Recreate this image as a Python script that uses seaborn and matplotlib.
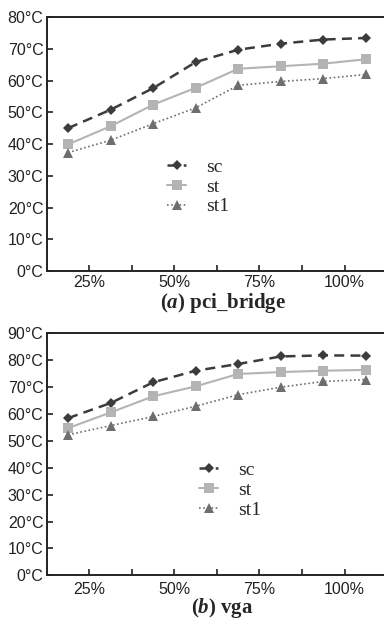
"""Temperatura por carga: pci_bridge y vga."""

import matplotlib
matplotlib.use("Agg")

import matplotlib.pyplot as plt
import pandas as pd
import seaborn as sns

# --- datos ---
loads = [18.75, 31.25, 43.75, 56.25, 68.75, 81.25, 93.75, 106.25]
x_ticks = [25, 37.5, 50, 62.5, 75, 87.5, 100]
x_tick_labels = ["25%", "", "50%", "", "75%", "", "100%"]
series_names = ["sc", "st", "st1"]

pci_sc = [45.0, 50.8, 57.6, 65.8, 69.7, 71.6, 72.9, 73.4]
pci_st = [39.9, 45.6, 52.4, 57.7, 63.7, 64.5, 65.3, 66.7]
pci_st1 = [37.3, 41.2, 46.4, 51.4, 58.5, 59.7, 60.6, 61.9]

vga_sc = [58.4, 64.0, 71.7, 76.0, 78.5, 81.3, 81.7, 81.6]
vga_st = [54.7, 60.5, 66.5, 70.2, 74.8, 75.5, 76.0, 76.3]
vga_st1 = [52.2, 55.6, 59.0, 62.8, 67.1, 69.9, 72.0, 72.7]

sns.set_style("ticks")
plt.rcParams["font.family"] = ["Liberation Sans", "DejaVu Sans"]
plt.rcParams["mathtext.fontset"] = "custom"
plt.rcParams["mathtext.rm"] = "Liberation Serif:bold"
plt.rcParams["mathtext.bf"] = "Liberation Serif:bold"
plt.rcParams["mathtext.it"] = "Liberation Serif:italic:bold"

styles = {
    "sc": dict(color="#3c3c3c", marker="D", markersize=5.5, linewidth=1.8,
               dashes=(4, 2.5), markeredgewidth=0),
    "st": dict(color="#b4b4b4", marker="s", markersize=6.5, linewidth=1.5,
               markeredgewidth=0),
    "st1": dict(color="#6e6e6e", marker="^", markersize=7.5, linewidth=1.2,
                dashes=(1, 1.5), markeredgewidth=0),
}


def draw_panel(ax, values, ymax, legend_anchor, caption, cap_y, xpad):
    df = pd.DataFrame({"load": loads * 3,
                       "temp": sum(values, []),
                       "serie": [n for n in series_names for _ in loads]})
    for name in series_names:
        sub = df[df["serie"] == name]
        sns.lineplot(data=sub, x="load", y="temp", ax=ax, label=name,
                     **styles[name])
    ax.set_xlim(12.5, 112.5)
    ax.set_ylim(0, ymax)
    ax.set_xticks(x_ticks)
    ax.set_xticklabels(x_tick_labels)
    ax.set_yticks(range(0, ymax + 1, 10))
    ax.set_yticklabels([f"{v}°C" for v in range(0, ymax + 1, 10)])
    ax.tick_params(direction="in", length=4, width=1.2, labelsize=11.5,
                   colors="#222222", pad=2.5)
    ax.tick_params(axis="x", pad=xpad)
    for sp in ax.spines.values():
        sp.set_linewidth(1.4)
        sp.set_color("#222222")
    ax.set_xlabel("")
    ax.set_ylabel("")
    ax.legend(loc="upper left", bbox_to_anchor=legend_anchor, frameon=False,
              prop={"family": "Liberation Serif", "size": 14},
              handlelength=1.0, handletextpad=1.0, labelspacing=0.12,
              borderpad=0, borderaxespad=0)
    ax.figure.text(0.58, cap_y, caption, ha="center", va="center",
                   fontsize=15, family="Liberation Serif", weight="bold")


fig = plt.figure(figsize=(3.84, 6.19), dpi=100)
ax1 = fig.add_axes([0.122, 0.5622, 0.886, 0.4103])
ax2 = fig.add_axes([0.122, 0.0705, 0.886, 0.3915])

draw_panel(ax1, [pci_sc, pci_st, pci_st1], 80, (0.353, 0.445),
           r"$\mathrm{(}\mathit{a}\mathrm{)}$ pci_bridge", 0.511, 3)
draw_panel(ax2, [vga_sc, vga_st, vga_st1], 90, (0.447, 0.47),
           r"$\mathrm{(}\mathit{b}\mathrm{)}$ vga", 0.017, 5)

fig.savefig("out.png", dpi=100)
plt.close(fig)
